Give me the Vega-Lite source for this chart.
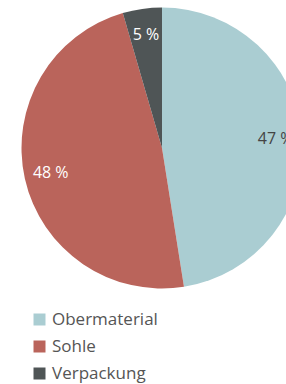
{
  "$schema": "https://vega.github.io/schema/vega-lite/v6.json",
  "width": 286,
  "height": 384,
  "autosize": "none",
  "padding": 0,
  "background": "white",
  "data": {"values": [
    {"teil": "Obermaterial", "anteil": 47.5, "label": "47 %", "idx": 1, "tc": "dark"},
    {"teil": "Sohle", "anteil": 48, "label": "48 %", "idx": 2, "tc": "light"},
    {"teil": "Verpackung", "anteil": 4.5, "label": "5 %", "idx": 3, "tc": "light"}
  ]},
  "encoding": {
    "theta": {"field": "anteil", "type": "quantitative", "stack": true},
    "order": {"field": "idx", "type": "quantitative"}
  },
  "layer": [
    {
      "mark": {"type": "arc", "x": 162, "y": 148, "outerRadius": 140.5},
      "encoding": {
        "color": {
          "field": "teil", "type": "nominal",
          "scale": {"domain": ["Obermaterial", "Sohle", "Verpackung"], "range": ["#aacdd2", "#ba645b", "#4f5556"]},
          "legend": {
            "title": null, "orient": "none", "legendX": 31, "legendY": 311,
            "symbolType": "square", "symbolSize": 144, "symbolStrokeWidth": 0,
            "labelFontSize": 17, "labelFont": "Open Sans", "labelColor": "#555",
            "labelOffset": 4, "rowPadding": 9, "padding": 0
          }
        }
      }
    },
    {
      "mark": {"type": "text", "x": 162, "y": 148, "radius": 114, "font": "Open Sans", "fontSize": 16, "align": "center", "baseline": "middle"},
      "encoding": {
        "text": {"field": "label"},
        "color": {"condition": {"test": "datum.tc === 'dark'", "value": "#444444"}, "value": "#ffffff"}
      }
    }
  ],
  "config": {"view": {"stroke": null}}
}
